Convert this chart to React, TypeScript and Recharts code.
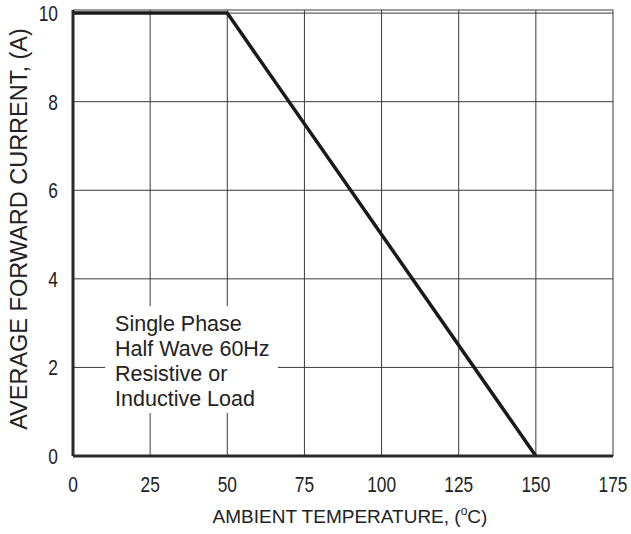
import React from "react";
import {
  LineChart,
  Line,
  XAxis,
  YAxis,
  CartesianGrid,
  ReferenceArea,
} from "recharts";

const temperatures = [0, 50, 150];
const currents = [10, 10, 0];
const xTicks = [0, 25, 50, 75, 100, 125, 150, 175];
const yTicks = [0, 2, 4, 6, 8, 10];
const noteLines = ["Single Phase", "Half Wave 60Hz", "Resistive or", "Inductive Load"];
const xTitle = "AMBIENT TEMPERATURE, (";
const yTitle = "AVERAGE FORWARD CURRENT, (A)";

// note box extent in data units
const noteBox = { x1: 10.4, x2: 66.4, y1: 0.97, y2: 3.38 };

const data = temperatures.map((t, i) => ({ t, a: currents[i] }));

const TICK_FONT = "'Liberation Sans', Arial, sans-serif";
const LABEL_FONT = "'Liberation Sans', Arial, sans-serif";
const NARROW = 0.77;

const XTick = (props: any) => {
  const { x, y, payload } = props;
  return (
    <g transform={`translate(${x}, ${y + 36}) scale(${NARROW}, 1)`}>
      <text
        x={0}
        y={0}
        textAnchor="middle"
        fontFamily={TICK_FONT}
        fontSize={22.5}
        fill="#222"
      >
        {payload.value}
      </text>
    </g>
  );
};

const YTick = (props: any) => {
  const { x, y, payload } = props;
  return (
    <g transform={`translate(${x - 15}, ${y + 8}) scale(${NARROW}, 1)`}>
      <text
        x={0}
        y={0}
        textAnchor="end"
        fontFamily={TICK_FONT}
        fontSize={22.5}
        fill="#222"
      >
        {payload.value}
      </text>
    </g>
  );
};

const XTitle = (props: any) => {
  const vb = props.viewBox;
  const cx = vb.x + vb.width / 2 + 7;
  return (
    <text
      x={cx}
      y={vb.y + 67}
      textAnchor="middle"
      fontFamily={LABEL_FONT}
      fontSize={19}
      fill="#222"
    >
      {xTitle}
      <tspan dy={-8} fontSize={12}>o</tspan>
      <tspan dy={8}>C)</tspan>
    </text>
  );
};

const YTitle = (props: any) => {
  const vb = props.viewBox;
  const x = 27;
  const y = vb.y + vb.height / 2 - 4;
  return (
    <text
      x={x}
      y={y}
      transform={`rotate(-90, ${x}, ${y})`}
      textAnchor="middle"
      fontFamily={LABEL_FONT}
      fontSize={23.5}
      fill="#222"
    >
      {yTitle}
    </text>
  );
};

const NoteLabel = (props: any) => {
  const vb = props.viewBox;
  return (
    <text fontFamily={LABEL_FONT} fontSize={21.5} fill="#222">
      {noteLines.map((l, i) => (
        <tspan key={i} x={vb.x + 10} y={vb.y + 25 + i * 25}>
          {l}
        </tspan>
      ))}
    </text>
  );
};

export default function App() {
  return (
    <div style={{ position: "absolute", left: 0, top: 0, background: "#fff" }}>
      <LineChart
        width={631}
        height={534}
        data={data}
        margin={{ top: 10, right: 18, bottom: 0, left: 0 }}
      >
        <CartesianGrid stroke="#3a3a3a" strokeWidth={1} />
        <XAxis
          dataKey="t"
          type="number"
          domain={[0, 175]}
          ticks={xTicks}
          tickLine={false}
          tickSize={0}
          tickMargin={0}
          height={78}
          axisLine={{ stroke: "#2a2a2a", strokeWidth: 3 }}
          tick={<XTick />}
          label={<XTitle />}
          interval={0}
        />
        <XAxis
          xAxisId="top"
          orientation="top"
          dataKey="t"
          type="number"
          domain={[0, 175]}
          height={0}
          tick={false}
          tickLine={false}
          axisLine={{ stroke: "#999", strokeWidth: 2 }}
        />
        <YAxis
          type="number"
          domain={[0, 10.07]}
          ticks={yTicks}
          tickLine={false}
          tickSize={0}
          tickMargin={0}
          width={73}
          axisLine={{ stroke: "#2a2a2a", strokeWidth: 3 }}
          tick={<YTick />}
          label={<YTitle />}
          interval={0}
        />
        <YAxis
          yAxisId="right"
          orientation="right"
          type="number"
          domain={[0, 10.07]}
          width={0}
          tick={false}
          tickLine={false}
          axisLine={{ stroke: "#888", strokeWidth: 2 }}
        />
        <ReferenceArea
          x1={noteBox.x1}
          x2={noteBox.x2}
          y1={noteBox.y1}
          y2={noteBox.y2}
          fill="#fff"
          fillOpacity={1}
          stroke="none"
          label={<NoteLabel />}
        />
        <Line
          type="linear"
          dataKey="a"
          stroke="#1a1a1a"
          strokeWidth={3.5}
          dot={false}
          activeDot={false}
          isAnimationActive={false}
        />
      </LineChart>
    </div>
  );
}
